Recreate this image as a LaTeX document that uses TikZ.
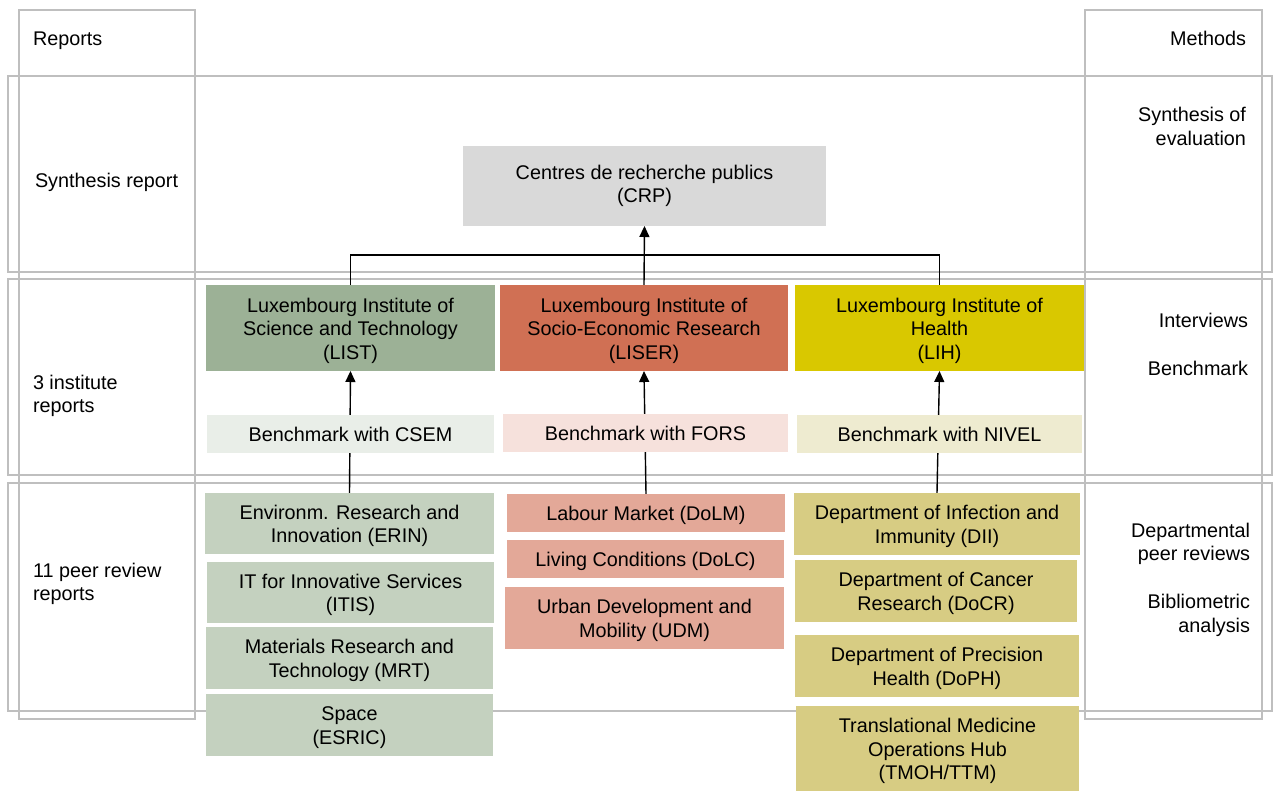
\documentclass[tikz,border=0pt]{standalone}
\usepackage{fontspec}
\setmainfont{Liberation Sans}
\usetikzlibrary{arrows.meta}
\definecolor{gridc}{HTML}{BFBFBF}
\definecolor{crpc}{HTML}{D9D9D9}
\definecolor{listc}{HTML}{9CB196}
\definecolor{liserc}{HTML}{D07054}
\definecolor{lihc}{HTML}{D9C800}
\definecolor{csemc}{HTML}{E9EEE8}
\definecolor{forsc}{HTML}{F6E1DC}
\definecolor{nivelc}{HTML}{EEEBD0}
\definecolor{gdep}{HTML}{C4D1BF}
\definecolor{rdep}{HTML}{E3A898}
\definecolor{ydep}{HTML}{D7CC83}
\newcommand{\topstrut}{\rule{0pt}{19.5pt}}
\pgfdeclarelayer{grid}
\pgfdeclarelayer{conn}
\pgfsetlayers{grid,conn,main}
\tikzset{
  box/.style={inner sep=0pt, outer sep=0pt, align=center, draw=none},
  gridline/.style={draw=gridc, line width=1.2pt},
  conline/.style={draw=black, line width=1.4pt},
  arr/.style={conline, -{Triangle[width=10pt,length=11pt]}},
  lbl/.style={inner sep=0pt, outer sep=0pt},
}
\begin{document}
\begin{tikzpicture}[x=1pt,y=-1pt,font=\fontsize{19.8}{23.5}\selectfont]
\useasboundingbox (0,0) rectangle (1277,793);
\begin{pgfonlayer}{grid}
\draw[gridline] (19,10) rectangle (195,719);
\draw[gridline] (1085,10) rectangle (1262,719);
\draw[gridline] (8,76) rectangle (1272,272);
\draw[gridline] (8,279) rectangle (1272,475);
\draw[gridline] (8,483) rectangle (1272,711);
\end{pgfonlayer}

% side labels
\node[lbl, anchor=base west] (repl) at (33,45) {Reports};
\node[lbl, anchor=base west] (synr) at (35,187) {Synthesis report};
\node[lbl, anchor=base west, align=left] (insr) at (33,412.5) {3 institute\\reports};
\node[lbl, anchor=base west, align=left] (peer) at (33,600.5) {11 peer review\\reports};
\node[lbl, anchor=base east] (meth) at (1246,45) {Methods};
\node[lbl, anchor=base east, align=right] (syne) at (1246,145) {Synthesis of\\evaluation};
\node[lbl, anchor=base east] (intv) at (1248,327) {Interviews};
\node[lbl, anchor=base east] (bench) at (1248,375) {Benchmark};
\node[lbl, anchor=base east, align=right] (dpr) at (1250,560.5) {Departmental\\peer reviews};
\node[lbl, anchor=base east, align=right] (bib) at (1250,632) {Bibliometric\\analysis};

% top
\node[box, fill=crpc, minimum width=363pt, minimum height=80pt] (CRP) at (644.5,186) {Centres de recherche publics\\(CRP)};

% institutes
\node[box, fill=listc, minimum width=289pt, minimum height=86pt] (LIST) at (350.5,328) {\topstrut Luxembourg Institute of\\Science and Technology\\(LIST)};
\node[box, fill=liserc, minimum width=288pt, minimum height=86pt] (LISER) at (644,328) {\topstrut Luxembourg Institute of\\Socio-Economic Research\\(LISER)};
\node[box, fill=lihc, minimum width=289pt, minimum height=86pt] (LIH) at (939.5,328) {\topstrut Luxembourg Institute of\\Health\\(LIH)};

% benchmarks
\node[box, fill=csemc, minimum width=287pt, minimum height=38pt] (CSEM) at (350.5,434) {Benchmark with CSEM};
\node[box, fill=forsc, minimum width=285pt, minimum height=38pt] (FORS) at (645.5,433) {Benchmark with FORS};
\node[box, fill=nivelc, minimum width=285pt, minimum height=38pt] (NIVEL) at (939.5,434) {Benchmark with NIVEL};

% LIST departments
\node[box, fill=gdep, minimum width=289pt, minimum height=61pt] (ERIN) at (349.5,523.5) {\topstrut Environm. Research and\\Innovation (ERIN)};
\node[box, fill=gdep, minimum width=287pt, minimum height=61pt] (ITIS) at (350.5,592.5) {\topstrut IT for Innovative Services\\(ITIS)};
\node[box, fill=gdep, minimum width=287pt, minimum height=62pt] (MRT) at (349.5,658) {\topstrut Materials Research and\\Technology (MRT)};
\node[box, fill=gdep, minimum width=287pt, minimum height=62pt] (ESRIC) at (349.5,725) {\topstrut Space\\(ESRIC)};

% LISER departments
\node[box, fill=rdep, minimum width=278pt, minimum height=38pt] (DoLM) at (646,513) {\topstrut Labour Market (DoLM)};
\node[box, fill=rdep, minimum width=277pt, minimum height=38pt] (DoLC) at (645.5,559) {\topstrut Living Conditions (DoLC)};
\node[box, fill=rdep, minimum width=279pt, minimum height=62pt] (UDM) at (644.5,618) {\topstrut Urban Development and\\Mobility (UDM)};

% LIH departments
\node[box, fill=ydep, minimum width=286pt, minimum height=62pt] (DII) at (937,524) {\topstrut Department of Infection and\\Immunity (DII)};
\node[box, fill=ydep, minimum width=282pt, minimum height=62pt] (DoCR) at (936,591) {\topstrut Department of Cancer\\Research (DoCR)};
\node[box, fill=ydep, minimum width=284pt, minimum height=62pt] (DoPH) at (937,666) {\topstrut Department of Precision\\Health (DoPH)};
\node[box, fill=ydep, minimum width=283pt, minimum height=85pt] (TMOH) at (937.5,748.5) {\topstrut Translational Medicine\\Operations Hub\\(TMOH/TTM)};

\coordinate (junc) at (644,255);

\begin{pgfonlayer}{conn}
\draw[conline] (LIST.north) |- (junc) -| (LIH.north);
\draw[arr] (LISER.north) -- (CRP.south);
\draw[arr] (ERIN.north) -- (LIST.south);
\draw[arr] (DoLM.north) -- (LISER.south);
\draw[arr] (DII.north) -- (LIH.south);
\end{pgfonlayer}
\end{tikzpicture}
\end{document}
